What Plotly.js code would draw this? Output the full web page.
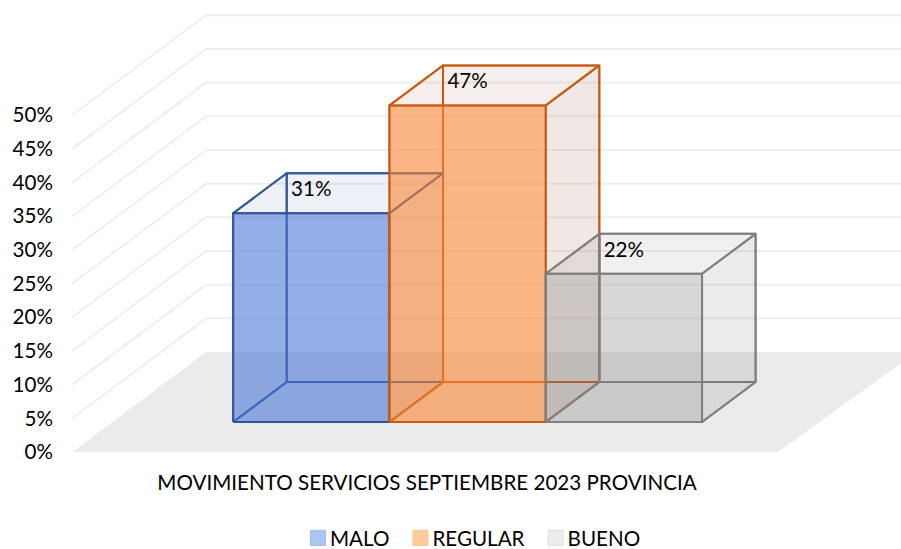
<!DOCTYPE html>
<html><head><meta charset="utf-8">
<script src="https://cdn.plot.ly/plotly-3.0.1.min.js"></script>
<style>html,body{margin:0;padding:0;background:#fff}</style></head>
<body><div id="chart" style="width:901px;height:549px"></div>
<script>
// Data
const seriesNames = ['MALO','REGULAR','BUENO'];
const seriesValues = [31,47,22];
const tickValues = [0,5,10,15,20,25,30,35,40,45,50];
const categoryLabel = 'MOVIMIENTO SERVICIOS SEPTIEMBRE 2023 PROVINCIA';

// Styles
const lineColors = ['rgba(47,85,151,0.92)','rgba(197,90,17,0.9)','rgba(127,127,127,0.92)'];
const frontFill  = ['rgba(72,118,216,0.56)','rgba(255,134,50,0.56)','rgba(135,135,135,0.27)'];
const sideFill   = ['rgba(68,100,170,0.05)','rgba(160,90,50,0.07)','rgba(90,90,90,0.06)'];
const topFill    = ['rgba(68,100,170,0.04)','rgba(160,90,50,0.03)','rgba(90,90,90,0.03)'];
const swatchFill = ['#A9C6F5','#FFCB9A','#EDEDED'];
const swatchLine = ['#9DBDF0','#FBC48E','#DDDDDD'];
const fontFamily = 'Lato, Carlito, sans-serif';
const fontSize = 20.6;

// Oblique-projection geometry in axis units (u: bar widths, v: percent)
const depthU = 0.857, depthV = 14.84;    // full floor depth
const barNear = 0.3, barFar = 0.7;       // bars' depth extent as a fraction of the floor
const floorU = [-1.53, 2.986];
const xRange = [-1.627, 3.773];
const yRange = [0, 67.1];
const topWall = xRange[1] + 0.1;

const project = (u, v, d) => [u + depthU*d, v + depthV*d];
function polygon(pts){
  const p = pts.concat([pts[0]]).map(a => project(a[0],a[1],a[2]));
  return {x:p.map(a=>a[0]), y:p.map(a=>a[1])};
}
const traces = [];
// floor
const fl = polygon([[floorU[0],0,0],[floorU[1],0,0],[floorU[1]+ (topWall-project(floorU[1],0,1)[0]),0,1],[floorU[0],0,1]]);
traces.push({type:'scatter',mode:'lines',x:fl.x,y:fl.y,fill:'toself',fillcolor:'#EBEBEB',line:{width:0},showlegend:false,hoverinfo:'skip'});
// gridlines on the walls
tickValues.slice(1).forEach(t=>{
  const a=project(floorU[0],t,0), b=project(floorU[0],t,1);
  traces.push({type:'scatter',mode:'lines',x:[a[0],b[0],topWall],y:[a[1],b[1],b[1]],line:{color:'#EFEFEF',width:2},showlegend:false,hoverinfo:'skip'});
});
// bars
seriesValues.forEach((val,i)=>{
  const l=i-0.5, r=i+0.5, n=barNear, f=barFar;
  const face=(pts,fill)=>{
    const p=polygon(pts);
    traces.push({type:'scatter',mode:'lines',x:p.x,y:p.y,fill:'toself',fillcolor:fill,
      line:{color:lineColors[i],width:2},showlegend:false,hoverinfo:'skip'});
  };
  const du=depthU*n; // front-face u are already at the bar's screen position
  const L=l-du, R=r-du;
  face([[L,0,f],[R,0,f],[R,val,f],[L,val,f]],sideFill[i]);   // back
  face([[L,0,n],[L,0,f],[L,val,f],[L,val,n]],sideFill[i]);   // left
  face([[L,0,n],[R,0,n],[R,0,f],[L,0,f]],sideFill[i]);       // bottom
  face([[R,0,n],[R,0,f],[R,val,f],[R,val,n]],sideFill[i]);   // right
  face([[L,val,n],[R,val,n],[R,val,f],[L,val,f]],topFill[i]);// top
  face([[L,0,n],[R,0,n],[R,val,n],[L,val,n]],frontFill[i]);  // front
});
// data labels
traces.push({type:'scatter',mode:'text',x:seriesValues.map((v,i)=>i),
  y:seriesValues.map(v=>project(0,v,barNear)[1]+3.3),
  text:seriesValues.map(v=>v+'%'),textposition:'middle center',cliponaxis:false,
  textfont:{family:fontFamily,size:fontSize,color:'#000'},showlegend:false,hoverinfo:'skip'});
// legend entries
seriesNames.forEach((name,i)=>{
  traces.push({type:'scatter',mode:'markers',name:name,x:[null],y:[null],
    marker:{symbol:'square',size:15,color:swatchFill[i],line:{color:swatchLine[i],width:1}}});
});

const layout = {
  width:901,height:549,paper_bgcolor:'#fff',plot_bgcolor:'#fff',
  margin:{l:57,r:0,t:0,b:96.5},
  font:{family:fontFamily,size:fontSize,color:'#000'},
  xaxis:{range:xRange,showgrid:false,zeroline:false,showline:false,fixedrange:true,automargin:false,
    tickmode:'array',tickvals:[0.74],ticktext:[categoryLabel],ticks:'',ticklabelstandoff:16,
    tickfont:{family:fontFamily,size:fontSize,color:'#000'}},
  yaxis:{range:yRange,showgrid:false,zeroline:false,showline:false,fixedrange:true,automargin:false,
    tickmode:'array',tickvals:tickValues,ticktext:tickValues.map(v=>v+'%'),ticks:'',ticklabelstandoff:3,ticklabelshift:-2.5,
    tickfont:{family:fontFamily,size:fontSize,color:'#000'}},
  legend:{orientation:'h',xref:'container',yref:'container',x:292/901,xanchor:'left',y:1-518/549,yanchor:'top',
    indentation:-2,font:{family:fontFamily,size:fontSize,color:'#000'},bgcolor:'rgba(0,0,0,0)'},
  showlegend:true
};
Plotly.newPlot('chart',traces,layout,{displayModeBar:false,staticPlot:true}).then(()=>{
  // The reference keeps each swatch closer to its text than Plotly's legend does.
  document.querySelectorAll('.legend .legendsymbols').forEach(g=>g.setAttribute('transform','translate(8,0)'));
});
</script></body></html>
